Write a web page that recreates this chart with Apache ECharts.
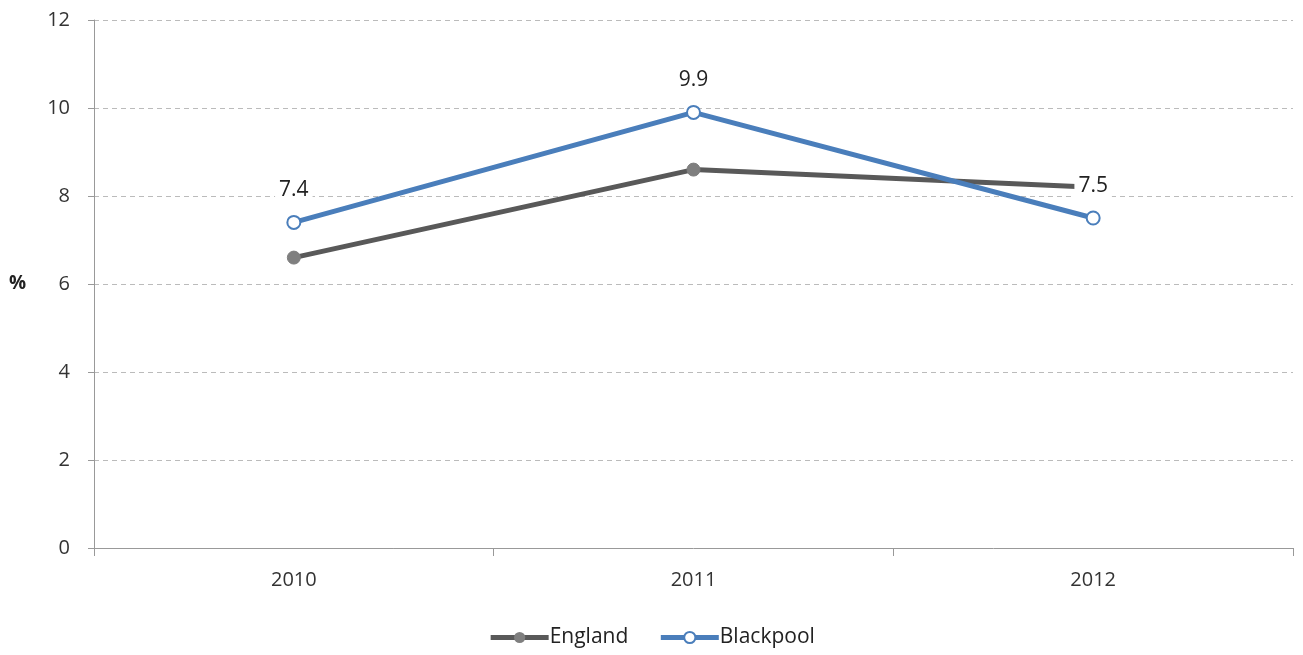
<!DOCTYPE html>
<html><head><meta charset="utf-8">
<script src="https://cdn.jsdelivr.net/npm/echarts@6/dist/echarts.min.js"></script>
<style>html,body{margin:0;padding:0;background:#fff}#c{width:1303px;height:655px}</style>
</head><body><div id="c"></div>
<script>
const categories = ['2010','2011','2012'];
const england = [6.6, 8.6, 8.2];
const blackpool = [7.4, 9.9, 7.5];
const yTicks = [0,2,4,6,8,10,12];

const font = 'Open Sans, Liberation Sans, sans-serif';
const chart = echarts.init(document.getElementById('c'));
chart.setOption({
  animation:false,
  textStyle:{fontFamily:font},
  grid:{left:94,right:10,top:20,bottom:107},
  legend:{
    bottom:2,left:'center',itemWidth:58,itemHeight:14,itemGap:30,
    textStyle:{fontSize:21,color:'#222',fontFamily:font,padding:[0,0,0,-4]},
    lineStyle:{width:5},
    data:['England','Blackpool']
  },
  xAxis:{
    type:'category',data:categories,boundaryGap:true,
    axisLine:{lineStyle:{color:'#999',width:1}},
    axisTick:{show:true,length:8,lineStyle:{color:'#999'}},
    axisLabel:{fontSize:20,color:'#333',margin:22,fontFamily:font}
  },
  yAxis:{
    type:'value',min:yTicks[0],max:yTicks[yTicks.length-1],interval:2,
    name:'%',nameLocation:'middle',nameRotate:0,nameGap:68,
    nameTextStyle:{fontSize:19,fontWeight:'bold',color:'#222',fontFamily:font},
    axisLine:{show:true,lineStyle:{color:'#999'}},
    axisTick:{show:true,length:6,lineStyle:{color:'#999'}},
    axisLabel:{fontSize:20,color:'#333',margin:24,fontFamily:font},
    splitLine:{lineStyle:{color:'#bbb',type:[5,4]}}
  },
  series:[
    {name:'England',type:'line',data:england,z:2,
     lineStyle:{color:'#595959',width:5},
     itemStyle:{color:'#7f7f7f',borderColor:'#7f7f7f'},
     symbol:'circle',symbolSize:13},
    {name:'Blackpool',type:'line',data:blackpool,z:3,
     lineStyle:{color:'#4a7ebb',width:5},
     itemStyle:{color:'#fff',borderColor:'#4a7ebb',borderWidth:2},
     symbol:'circle',symbolSize:13,
     label:{show:true,position:'top',distance:13,fontSize:21,color:'#222',fontFamily:font,
       backgroundColor:'#fff',padding:[1,4],formatter:p=>p.value.toFixed(1)}}
  ]
});
</script></body></html>
